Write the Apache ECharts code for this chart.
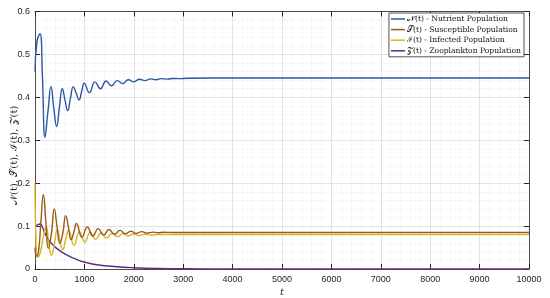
<!DOCTYPE html>
<html>
<head>
<meta charset="utf-8">
<script src="https://cdn.jsdelivr.net/npm/echarts@6/dist/echarts.min.js"></script>
<style>
  html, body { margin: 0; padding: 0; background: #fff; }
  #chart { width: 550px; height: 298px; }
</style>
</head>
<body>
<div id="chart"></div>
<script>
// values as [t, value]
const nutrient = [
  [0, 0.46], [40, 0.53], [101, 0.548], [150, 0.45], [202, 0.307], [265, 0.37],
  [324, 0.425], [380, 0.375], [439, 0.332], [495, 0.378], [553, 0.42], [608, 0.393],
  [662, 0.369], [718, 0.398], [775, 0.425], [833, 0.41], [891, 0.394], [945, 0.414],
  [998, 0.433], [1100, 0.411], [1215, 0.436], [1325, 0.42], [1440, 0.438], [1550, 0.427],
  [1665, 0.439], [1775, 0.432], [1890, 0.441], [2000, 0.436], [2115, 0.442], [2225, 0.439],
  [2340, 0.443], [2450, 0.441], [2565, 0.4435], [2680, 0.4425], [2790, 0.444], [2900, 0.4435],
  [3100, 0.4445], [4000, 0.445], [10000, 0.445]
]
const susceptible = [
  [0, 0.05], [30, 0.03], [70, 0.04], [120, 0.11], [169, 0.174], [220, 0.11], [270, 0.048],
  [330, 0.08], [391, 0.14], [450, 0.095], [505, 0.06], [565, 0.085], [621, 0.124], [680, 0.095],
  [730, 0.068], [785, 0.085], [840, 0.106], [950, 0.074], [1060, 0.098], [1170, 0.077],
  [1280, 0.094], [1390, 0.079], [1500, 0.092], [1610, 0.081], [1720, 0.09], [1830, 0.082],
  [1940, 0.088], [2050, 0.083], [2160, 0.087], [2270, 0.0835], [2380, 0.086], [2490, 0.0845],
  [2600, 0.0855], [2800, 0.085], [10000, 0.085]
]
const infected = [
  [0, 0.2], [15, 0.09], [49, 0.027], [100, 0.035], [160, 0.07], [225, 0.098], [285, 0.055],
  [335, 0.032], [395, 0.06], [450, 0.092], [510, 0.062], [560, 0.045], [620, 0.068], [680, 0.09],
  [790, 0.055], [900, 0.087], [1010, 0.063], [1120, 0.086], [1230, 0.069], [1340, 0.084],
  [1450, 0.072], [1560, 0.083], [1670, 0.075], [1780, 0.0825], [1890, 0.077], [2000, 0.0815],
  [2110, 0.078], [2220, 0.081], [2330, 0.079], [2500, 0.0805], [10000, 0.0802]
]
const zooplankton = [
  [0, 0.099], [50, 0.103], [110, 0.105], [160, 0.095], [202, 0.083], [304, 0.064],
  [439, 0.048], [641, 0.033], [844, 0.022], [1046, 0.0147], [1249, 0.01], [1654, 0.0054],
  [2000, 0.003], [2500, 0.0012], [3000, 0.0005], [4000, 0.0001], [10000, 0]
]
const seriesNames = [
  '𝒩(t) - Nutrient Population',
  '𝒮(t) - Susceptible Population',
  'ℐ(t) - Infected Population',
  '𝒵(t) - Zooplankton Population'
]
const seriesColors = ['#2f55a6', '#9b5a1c', '#d9b51e', '#5c2a8a']

const axisColor = '#262626'
const labelFont = 'Liberation Sans, Arial, sans-serif'
const mathFont = 'DejaVu Serif, Liberation Serif, serif'

const myChart = echarts.init(document.getElementById('chart'), null, { renderer: 'canvas' })

const xBase = {
  type: 'value', min: 0, max: 10000, interval: 1000,
  axisLine: { show: true, onZero: false, lineStyle: { color: axisColor, width: 0.8 } },
  axisTick: { show: true, inside: true, length: 5, lineStyle: { color: axisColor } },
  minorTick: { show: false, splitNumber: 5 }
}
const yBase = {
  type: 'value', min: 0, max: 0.6, interval: 0.1,
  axisLine: { show: true, onZero: false, lineStyle: { color: axisColor, width: 0.8 } },
  axisTick: { show: true, inside: true, length: 5, lineStyle: { color: axisColor } },
  minorTick: { show: false, splitNumber: 5 }
}

myChart.setOption({
  animation: false,
  backgroundColor: '#fff',
  grid: { left: 35, right: 21, top: 11.5, bottom: 29, containLabel: false, outerBoundsMode: 'none' },
  legend: {
    right: 26, top: 13,
    orient: 'vertical',
    icon: 'rect',
    itemWidth: 14, itemHeight: 1.5, itemGap: 2.6,
    padding: [2, 3, 2, 2],
    backgroundColor: '#fff',
    borderColor: axisColor, borderWidth: 0.8, borderRadius: 0,
    data: seriesNames,
    textStyle: { fontFamily: mathFont, fontSize: 7.6, color: '#111', padding: [0, 0, 0, -3] }
  },
  xAxis: [
    Object.assign({}, xBase, {
      position: 'bottom',
      name: 't', nameLocation: 'middle', nameGap: 18, nameMoveOverlap: false,
      nameTextStyle: { fontFamily: mathFont, fontStyle: 'italic', fontSize: 10, color: axisColor },
      axisLabel: { fontFamily: labelFont, fontSize: 9, color: axisColor, margin: 6, formatter: v => String(v) },
      splitLine: { show: true, lineStyle: { color: '#dcdcdc', width: 0.8 } },
      minorSplitLine: { show: true, lineStyle: { color: '#ececec', width: 0.8, type: [1, 1] } }
    }),
    Object.assign({}, xBase, {
      position: 'top',
      axisLabel: { show: false },
      splitLine: { show: false }
    })
  ],
  yAxis: [
    Object.assign({}, yBase, {
      position: 'left',
      name: '𝒩(t), 𝒮(t), ℐ(t), 𝒵(t)', nameLocation: 'middle', nameGap: 16, nameRotate: 90,
      nameMoveOverlap: false,
      nameTextStyle: { fontFamily: mathFont, fontSize: 10, color: axisColor, padding: [0, 30, 0, 0] },
      axisLabel: {
        fontFamily: labelFont, fontSize: 9, color: axisColor, margin: 5,
        formatter: v => (v === 0 ? '0' : v.toFixed(1))
      },
      splitLine: { show: true, lineStyle: { color: '#dcdcdc', width: 0.8 } },
      minorSplitLine: { show: true, lineStyle: { color: '#ececec', width: 0.8, type: [1, 1] } }
    }),
    Object.assign({}, yBase, {
      position: 'right',
      axisLabel: { show: false },
      splitLine: { show: false }
    })
  ],
  series: [nutrient, susceptible, infected, zooplankton].map((d, i) => ({
    name: seriesNames[i],
    type: 'line',
    data: d,
    xAxisIndex: 0,
    yAxisIndex: 0,
    smooth: 0.5,
    symbol: 'none',
    lineStyle: { width: 1.4, color: seriesColors[i] },
    itemStyle: { color: seriesColors[i] },
    z: 10 - i
  }))
})
</script>
</body>
</html>
